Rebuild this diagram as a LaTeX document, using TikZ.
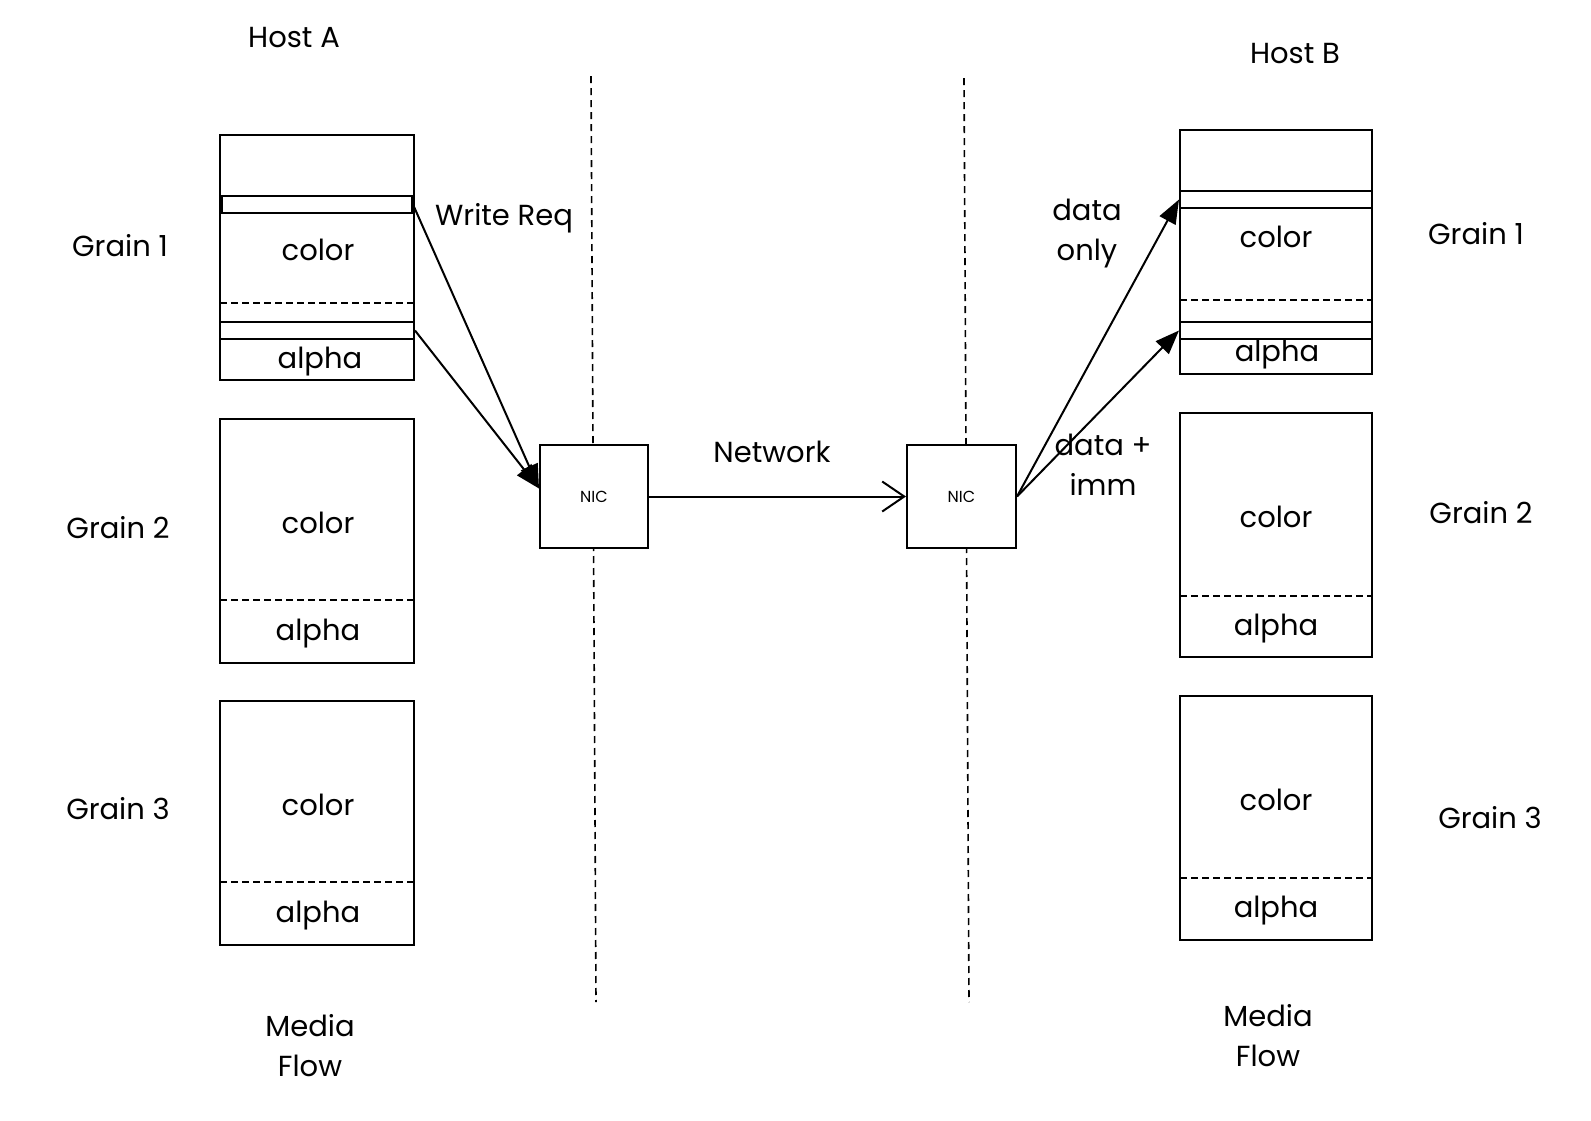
\documentclass[tikz,border=0pt]{standalone}
\usepackage{fontspec}
\setmainfont{Poppins}
\usetikzlibrary{arrows.meta}
\begin{document}
\begin{tikzpicture}[x=1pt,y=-1pt,line width=2pt,
  box/.style={draw, fill=white, inner sep=0pt},
  lbl/.style={font=\fontsize{29}{40}\selectfont, align=center, inner sep=0pt},
  small/.style={font=\fontsize{16}{18}\selectfont, inner sep=0pt},
  sep/.style={line width=1.6pt, dash pattern=on 7pt off 4pt},
  vline/.style={line width=1.6pt, dash pattern=on 7pt off 5pt},
  fillarrow/.style={-{Triangle[length=24pt,width=18pt]}, line width=2pt},
  openarrow/.style={-{Straight Barb[length=22pt,width=30pt]}, line width=2pt}]
\useasboundingbox (0,0) rectangle (1591,1120);

% separators between hosts and network
\coordinate (va1) at (591,76);
\coordinate (va2) at (596,1002);
\coordinate (vb1) at (964,78);
\coordinate (vb2) at (969,1002);
\draw[vline] (va1) -- (va2);
\draw[vline] (vb1) -- (vb2);

% ---------- Host A ----------
\node[lbl] (hosta) at (294,38) {Host A};
\node[lbl] (ag1l) at (120,246) {Grain 1};
\node[lbl] (ag2l) at (118,528) {Grain 2};
\node[lbl] (ag3l) at (118,809) {Grain 3};
\node[lbl] (amf) at (310,1046) {Media\\Flow};

% grain 1
\node[box, minimum width=194pt, minimum height=245pt] (ag1) at (317,257.5) {};
\node[box, minimum width=190pt, minimum height=17pt] (abar1) at (317,204.5) {};
\node[box, minimum width=194pt, minimum height=17pt] (abar2) at (317,330.5) {};
\draw[sep] (220,303) -- (414,303);
\node[lbl] (ac1) at (318,250) {color};
\node[lbl] (aa1) at (320,362) {alpha};

% grain 2
\node[box, minimum width=194pt, minimum height=244pt] (ag2) at (317,541) {};
\draw[sep] (220,600) -- (414,600);
\node[lbl] (ac2) at (318,523) {color};
\node[lbl] (aa2) at (318,634) {alpha};

% grain 3
\node[box, minimum width=194pt, minimum height=244pt] (ag3) at (317,823) {};
\draw[sep] (220,882) -- (414,882);
\node[lbl] (ac3) at (318,805) {color};
\node[lbl] (aa3) at (318,916) {alpha};

% ---------- Host B ----------
\node[lbl] (hostb) at (1295,54) {Host B};
\node[lbl] (bg1l) at (1476,234) {Grain 1};
\node[lbl] (bg2l) at (1481,513) {Grain 2};
\node[lbl] (bg3l) at (1490,818) {Grain 3};
\node[lbl] (bmf) at (1268,1036) {Media\\Flow};

% grain 1
\node[box, minimum width=192pt, minimum height=244pt] (bg1) at (1276,252) {};
\node[box, minimum width=192pt, minimum height=17pt] (bbar1) at (1276,199.5) {};
\node[box, minimum width=192pt, minimum height=17pt] (bbar2) at (1276,330.5) {};
\draw[sep] (1180,300) -- (1372,300);
\node[lbl] (bc1) at (1276,237) {color};
\node[lbl] (ba1) at (1277,355) {alpha};

% grain 2
\node[box, minimum width=192pt, minimum height=244pt] (bg2) at (1276,535) {};
\draw[sep] (1180,596) -- (1372,596);
\node[lbl] (bc2) at (1276,517) {color};
\node[lbl] (ba2) at (1276,629) {alpha};

% grain 3
\node[box, minimum width=192pt, minimum height=244pt] (bg3) at (1276,818) {};
\draw[sep] (1180,878) -- (1372,878);
\node[lbl] (bc3) at (1276,800) {color};
\node[lbl] (ba3) at (1276,911) {alpha};

% ---------- NICs ----------
\node[box, minimum width=108pt, minimum height=103pt] (nica) at (594,496.5) {};
\node[small] (nicat) at (594,497) {NIC};
\node[box, minimum width=109pt, minimum height=103pt] (nicb) at (961.5,496.5) {};
\node[small] (nicbt) at (961.5,497) {NIC};

% ---------- connectors ----------
\draw[fillarrow] (abar1.east) -- ([yshift=8pt]nica.west);
\draw[fillarrow] (abar2.east) -- ([yshift=8pt]nica.west);
\draw[openarrow] (nica.east) -- (nicb.west);
\draw[fillarrow] (nicb.east) -- (bbar1.west);
\draw[fillarrow] (nicb.east) -- (bbar2.west);

% ---------- labels ----------
\node[lbl] (wreq) at (504,218) {Write Req};
\node[lbl] (net) at (772,452) {Network};
\node[lbl] (donly) at (1087,234) {data\\only};
\node[lbl] (dimm) at (1103,465) {data +\\imm};
\end{tikzpicture}
\end{document}
